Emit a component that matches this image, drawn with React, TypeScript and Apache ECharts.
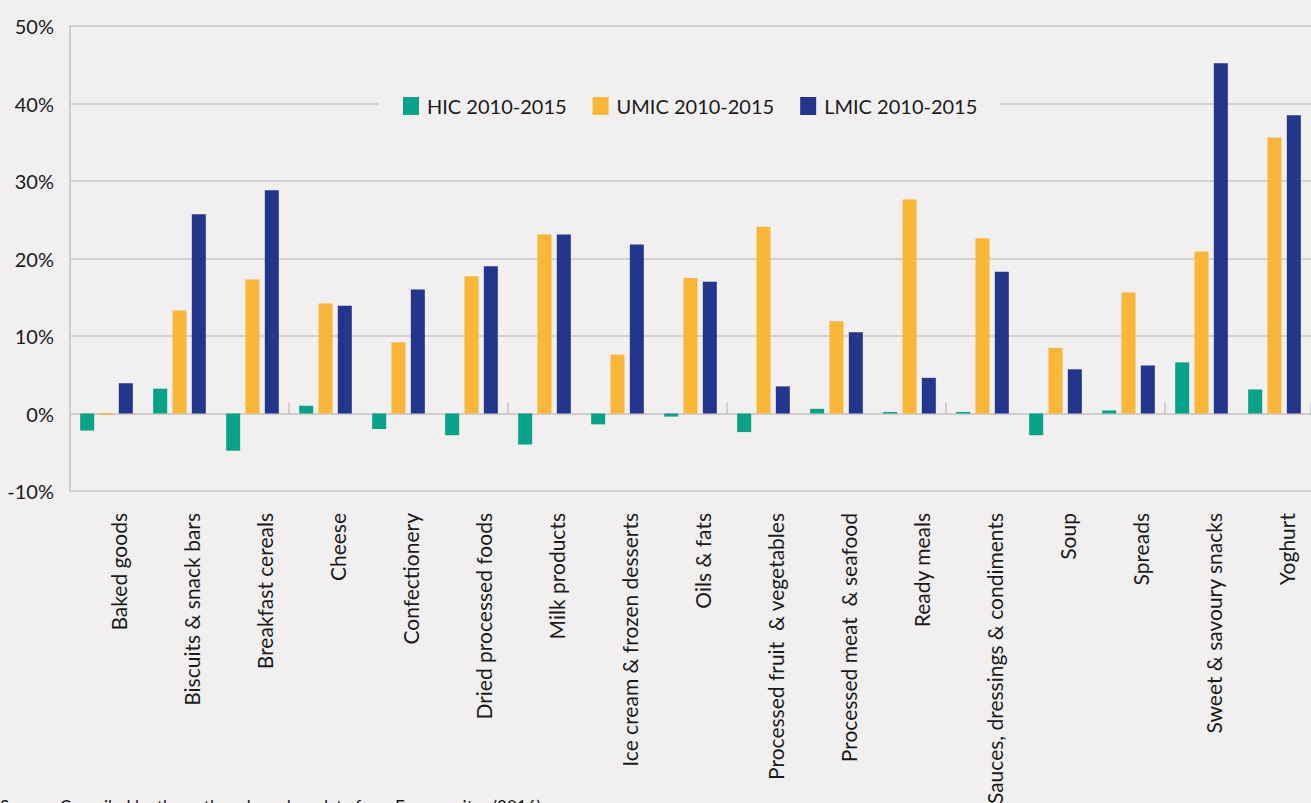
import React, { useEffect, useRef } from "react";
import * as echarts from "echarts";

const categories = [
  "Baked goods",
  "Biscuits & snack bars",
  "Breakfast cereals",
  "Cheese",
  "Confectionery",
  "Dried processed foods",
  "Milk products",
  "Ice cream & frozen desserts",
  "Oils & fats",
  "Processed fruit  & vegetables",
  "Processed meat  & seafood",
  "Ready meals",
  "Sauces, dressings & condiments",
  "Soup",
  "Spreads",
  "Sweet & savoury snacks",
  "Yoghurt",
];

const seriesNames = ["HIC 2010-2015", "UMIC 2010-2015", "LMIC 2010-2015"];

const hic = [-2.2, 3.2, -4.8, 1.0, -2.0, -2.8, -4.0, -1.4, -0.4, -2.4, 0.6, 0.2, 0.2, -2.8, 0.4, 6.6, 3.1];
const umic = [-0.2, 13.3, 17.3, 14.2, 9.2, 17.7, 23.1, 7.6, 17.5, 24.1, 11.9, 27.6, 22.6, 8.5, 15.6, 20.9, 35.6];
const lmic = [3.9, 25.7, 28.8, 13.9, 16.0, 19.0, 23.1, 21.8, 17.0, 3.5, 10.5, 4.6, 18.3, 5.7, 6.2, 45.2, 38.5];

const colors = ["#06a388", "#fab636", "#23368c"];
const bg = "#f1eff0";
const gridColor = "#d2d0d1";
const sourceText = "Source: Compiled by the authors based on data from Euromonitor (2016)";

export default function App() {
  const ref = useRef<HTMLDivElement>(null);
  useEffect(() => {
    if (!ref.current) return;
    const chart = echarts.init(ref.current, undefined, { renderer: "svg" });
    const font = "Lato";
    chart.setOption({
      animation: false,
      backgroundColor: bg,
      textStyle: { fontFamily: font },
      grid: {
        left: 70,
        right: 0,
        top: 26,
        bottom: 312,
        containLabel: false,
        outerBoundsMode: "none",
      },
      legend: {
        data: seriesNames,
        icon: "rect",
        itemWidth: 16,
        itemHeight: 18,
        itemGap: 26,
        left: 378,
        top: 90,
        padding: [6, 22, 6, 25],
        backgroundColor: bg,
        textStyle: { fontSize: 20, color: "#1a1a1a", fontFamily: font, padding: [0, 0, 0, 3] },
      },
      xAxis: [
        {
          type: "category",
          data: categories,
          position: "bottom",
          axisLine: { show: false, onZero: false },
          axisTick: { show: false },
          splitLine: { show: false },
          axisLabel: {
            interval: 0,
            rotate: 90,
            fontSize: 21,
            color: "#1a1a1a",
            margin: 22,
            verticalAlign: "top",
            lineHeight: 24,
            fontFamily: font,
          },
        },
        {
          type: "category",
          data: categories,
          position: "top",
          axisLine: { show: true, onZero: true, lineStyle: { color: "#cfcdce", width: 2 } },
          axisTick: { show: true, length: 11, lineStyle: { color: "#cfcdce", width: 2 } },
          axisLabel: { show: false },
          splitLine: { show: false },
        },
      ],
      yAxis: {
        type: "value",
        min: -10,
        max: 50,
        interval: 10,
        axisLine: { show: true, lineStyle: { color: "#cfcdce", width: 2 } },
        axisTick: { show: false },
        splitLine: { show: true, lineStyle: { color: gridColor, width: 2 } },
        axisLabel: {
          formatter: "{value}%",
          fontSize: 20,
          color: "#1a1a1a",
          margin: 16,
          fontFamily: font,
        },
      },
      series: [hic, umic, lmic].map((d, i) => ({
        name: seriesNames[i],
        type: "bar",
        xAxisIndex: 0,
        data: d,
        barWidth: 14,
        barGap: "38%",
        itemStyle: { color: colors[i] },
      })),
      graphic: [
        {
          type: "text",
          left: 0,
          top: 798,
          style: { text: sourceText, fontSize: 17, fill: "#1a1a1a", fontFamily: font },
        },
      ],
    });
    return () => chart.dispose();
  }, []);
  return (
    <div
      ref={ref}
      style={{ position: "absolute", left: 0, top: 0, width: 1311, height: 803 }}
    />
  );
}
